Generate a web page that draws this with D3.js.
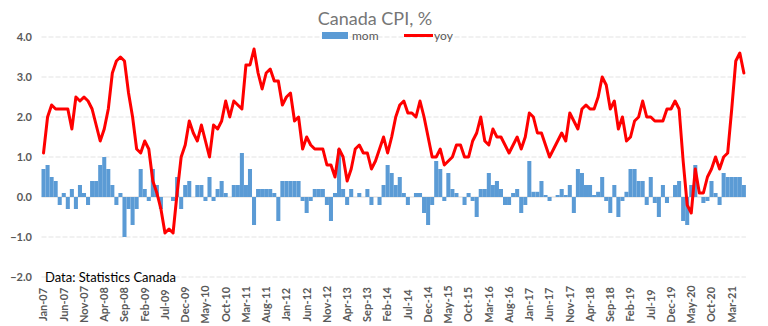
<!DOCTYPE html>
<html>
<head>
<meta charset="utf-8">
<script src="https://cdn.jsdelivr.net/npm/d3@7"></script>
<style>
  html, body { margin: 0; padding: 0; background: #fff; }
  svg { display: block; }
  text { font-family: "Lato", "Open Sans", sans-serif; }
</style>
</head>
<body>
<svg id="chart" width="768" height="326"></svg>
<script>
// Canada CPI, monthly, Jan 2007 – Jun 2021
const startYear = 2007;
const monthNames = ["Jan","Feb","Mar","Apr","May","Jun","Jul","Aug","Sep","Oct","Nov","Dec"];

// month-over-month change, %
const mom = [
  0.7, 0.8, 0.5, 0.4, -0.2, 0.1, -0.3, 0.2, -0.3, 0.3, 0.1, -0.2,   // 2007
  0.4, 0.4, 0.8, 1.0, 0.7, 0.3, -0.2, 0.1, -1.0, -0.3, -0.7, -0.3,  // 2008
  0.7, 0.2, -0.1, 0.7, 0.3, -0.3, 0.0, 0.0, -0.1, 0.5, -0.3, 0.3,   // 2009
  0.4, 0.0, 0.3, 0.3, -0.1, 0.5, -0.1, 0.2, 0.4, 0.1, 0.0, 0.3,     // 2010
  0.3, 1.1, 0.3, 0.7, -0.7, 0.2, 0.2, 0.2, 0.2, 0.1, -0.6, 0.4,     // 2011
  0.4, 0.4, 0.4, 0.4, -0.1, -0.4, -0.1, 0.2, 0.2, 0.2, -0.2, -0.6,  // 2012
  0.1, 1.2, 0.2, -0.2, 0.2, 0.0, 0.1, 0.0, 0.2, -0.2, 0.0, -0.2,    // 2013
  0.3, 0.8, 0.6, 0.3, 0.5, 0.1, -0.2, 0.0, 0.1, 0.1, -0.4, -0.7,    // 2014
  -0.2, 0.9, 0.7, -0.1, 0.6, 0.2, 0.1, 0.0, -0.2, 0.1, -0.1, -0.5,  // 2015
  0.2, 0.2, 0.6, 0.3, 0.4, 0.2, -0.2, -0.2, 0.1, 0.2, -0.4, -0.2,   // 2016
  0.9, 0.13, 0.13, 0.4, 0.05, -0.1, 0.0, 0.05, 0.2, 0.05, 0.3, -0.4, // 2017
  0.7, 0.6, 0.3, 0.3, 0.05, 0.13, 0.5, -0.1, -0.4, 0.3, -0.5, -0.1, // 2018
  0.13, 0.7, 0.7, 0.4, 0.4, -0.2, 0.5, -0.15, -0.5, 0.3, -0.15, 0.0, // 2019
  0.3, 0.4, -0.6, -0.7, 0.3, 0.8, 0.0, -0.15, -0.1, 0.4, 0.1, -0.2, // 2020
  0.6, 0.5, 0.5, 0.5, 0.5, 0.3                                      // 2021
];

// year-over-year change, %
const yoy = [
  1.1, 2.0, 2.3, 2.2, 2.2, 2.2, 2.2, 1.7, 2.5, 2.4, 2.5, 2.4,       // 2007
  2.2, 1.8, 1.4, 1.7, 2.2, 3.1, 3.4, 3.5, 3.4, 2.6, 2.0, 1.2,       // 2008
  1.1, 1.4, 1.2, 0.4, 0.1, -0.3, -0.9, -0.8, -0.9, 0.1, 1.0, 1.3,   // 2009
  1.9, 1.6, 1.4, 1.8, 1.4, 1.0, 1.8, 1.7, 1.9, 2.4, 2.0, 2.4,       // 2010
  2.3, 2.2, 3.3, 3.3, 3.7, 3.1, 2.7, 3.1, 3.2, 2.9, 2.9, 2.3,       // 2011
  2.5, 2.6, 1.9, 2.0, 1.2, 1.5, 1.3, 1.2, 1.2, 1.2, 0.8, 0.8,       // 2012
  0.5, 1.2, 1.0, 0.4, 0.7, 1.2, 1.3, 1.1, 1.1, 0.7, 0.9, 1.2,       // 2013
  1.5, 1.1, 1.5, 2.0, 2.3, 2.4, 2.1, 2.1, 2.0, 2.4, 2.0, 1.5,       // 2014
  1.0, 1.0, 1.2, 0.8, 0.9, 1.0, 1.3, 1.3, 1.0, 1.0, 1.4, 1.6,       // 2015
  2.0, 1.4, 1.3, 1.7, 1.5, 1.5, 1.3, 1.1, 1.3, 1.5, 1.2, 1.5,       // 2016
  2.1, 2.0, 1.6, 1.6, 1.3, 1.0, 1.2, 1.4, 1.6, 1.4, 2.1, 1.9,       // 2017
  1.7, 2.2, 2.3, 2.2, 2.2, 2.5, 3.0, 2.8, 2.2, 2.4, 1.7, 2.0,       // 2018
  1.4, 1.5, 1.9, 2.0, 2.4, 2.0, 2.0, 1.9, 1.9, 1.9, 2.2, 2.2,       // 2019
  2.4, 2.2, 0.9, -0.2, -0.4, 0.7, 0.1, 0.1, 0.5, 0.7, 1.0, 0.7,     // 2020
  1.0, 1.1, 2.2, 3.4, 3.6, 3.1                                      // 2021
];

// month labels, e.g. "Jan-07"
const categories = mom.map((_, i) =>
  monthNames[i % 12] + "-" + String((startYear + Math.floor(i / 12)) % 100).padStart(2, "0"));

const xTickLabels = ["Jan-07","Jun-07","Nov-07","Apr-08","Sep-08","Feb-09","Jul-09","Dec-09",
  "May-10","Oct-10","Mar-11","Aug-11","Jan-12","Jun-12","Nov-12","Apr-13","Sep-13","Feb-14",
  "Jul-14","Dec-14","May-15","Oct-15","Mar-16","Aug-16","Jan-17","Jun-17","Nov-17","Apr-18",
  "Sep-18","Feb-19","Jul-19","Dec-19","May-20","Oct-20","Mar-21"];
const yTicks = [-2, -1, 0, 1, 2, 3, 4];

const svg = d3.select("#chart");
const plot = { left: 41.5, right: 745.9, top: 37, bottom: 277 };

const x = d3.scaleBand().domain(categories).range([plot.left, plot.right]).padding(0);
const y = d3.scaleLinear().domain([-2, 4]).range([plot.bottom, plot.top]);

// horizontal gridlines
svg.append("g").selectAll("line").data(yTicks.filter(d => d !== 0)).join("line")
  .attr("x1", plot.left).attr("x2", plot.right)
  .attr("y1", d => y(d)).attr("y2", d => y(d))
  .attr("stroke", "#e3e3e3").attr("stroke-width", 1)
  .attr("stroke-dasharray", "5,2");

// value axis labels
svg.append("g").selectAll("text").data(yTicks).join("text")
  .attr("x", 32).attr("y", d => y(d)).attr("dy", "0.35em")
  .attr("text-anchor", "end")
  .attr("font-size", 11).attr("font-weight", "bold").attr("fill", "#595959")
  .text(d => d3.format(".1f")(d));

// zero axis
svg.append("line")
  .attr("x1", plot.left).attr("x2", plot.right)
  .attr("y1", y(0)).attr("y2", y(0))
  .attr("stroke", "#d9d9d9").attr("stroke-width", 1);

// mom bars
svg.append("g").selectAll("rect").data(mom).join("rect")
  .attr("x", (d, i) => x(categories[i]))
  .attr("width", x.bandwidth())
  .attr("y", d => y(Math.max(0, d)))
  .attr("height", d => Math.abs(y(d) - y(0)))
  .attr("fill", "#5b9bd5");

// yoy line
const line = d3.line()
  .x((d, i) => x(categories[i]) + x.bandwidth() / 2)
  .y(d => y(d));
svg.append("path").datum(yoy)
  .attr("d", line)
  .attr("fill", "none").attr("stroke", "#ff0000")
  .attr("stroke-width", 3).attr("stroke-linejoin", "round").attr("stroke-linecap", "round");

// category axis labels, rotated
svg.append("g").selectAll("text").data(xTickLabels).join("text")
  .attr("transform", d => `translate(${x(d) + x.bandwidth() / 2},304.5) rotate(-90)`)
  .attr("text-anchor", "middle").attr("dy", "0.35em")
  .attr("font-size", 11).attr("font-weight", "bold").attr("fill", "#595959")
  .text(d => d);

// title
svg.append("text")
  .attr("x", 375).attr("y", 25)
  .attr("text-anchor", "middle")
  .attr("font-size", 18).attr("fill", "#767676")
  .text("Canada CPI, %");

// legend
const legend = svg.append("g");
legend.append("rect").attr("x", 322).attr("y", 32).attr("width", 26).attr("height", 7).attr("fill", "#5b9bd5");
legend.append("text").attr("x", 352).attr("y", 40).attr("font-size", 12).attr("fill", "#595959").text("mom");
legend.append("line").attr("x1", 404).attr("x2", 433).attr("y1", 35.5).attr("y2", 35.5)
  .attr("stroke", "#ff0000").attr("stroke-width", 3);
legend.append("text").attr("x", 434).attr("y", 40).attr("font-size", 12).attr("fill", "#595959").text("yoy");

// source note
svg.append("text")
  .attr("x", 45).attr("y", 282)
  .attr("font-size", 13).attr("fill", "#000")
  .text("Data: Statistics Canada");
</script>
</body>
</html>
